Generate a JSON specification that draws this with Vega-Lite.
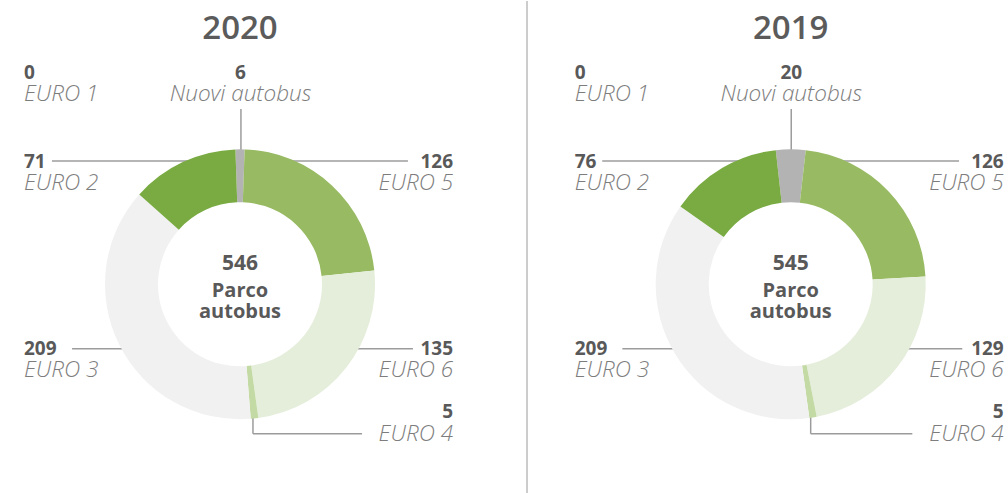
{
  "$schema": "https://vega.github.io/schema/vega-lite/v6.json",
  "padding": 0,
  "spacing": 0,
  "bounds": "flush",
  "config": {"view": {"stroke": null}},
  "resolve": {"scale": {"theta": "independent"}},
  "datasets": {
    "slices": [
      {"year": 2020, "cat": "Nuovi autobus", "value": 6, "k": 1},
      {"year": 2020, "cat": "EURO 5", "value": 126, "k": 2},
      {"year": 2020, "cat": "EURO 6", "value": 135, "k": 3},
      {"year": 2020, "cat": "EURO 4", "value": 5, "k": 4},
      {"year": 2020, "cat": "EURO 3", "value": 209, "k": 5},
      {"year": 2020, "cat": "EURO 2", "value": 71, "k": 6},
      {"year": 2020, "cat": "EURO 1", "value": 0, "k": 7},
      {"year": 2019, "cat": "Nuovi autobus", "value": 20, "k": 1},
      {"year": 2019, "cat": "EURO 5", "value": 126, "k": 2},
      {"year": 2019, "cat": "EURO 6", "value": 129, "k": 3},
      {"year": 2019, "cat": "EURO 4", "value": 5, "k": 4},
      {"year": 2019, "cat": "EURO 3", "value": 209, "k": 5},
      {"year": 2019, "cat": "EURO 2", "value": 76, "k": 6},
      {"year": 2019, "cat": "EURO 1", "value": 0, "k": 7}
    ],
    "totals": [
      {"year": 2020, "total": 546, "label": ["Parco", "autobus"]},
      {"year": 2019, "total": 545, "label": ["Parco", "autobus"]}
    ],
    "labelpos": [
      {"cat": "EURO 1", "lx": -1.6, "ly": 1.524},
      {"cat": "Nuovi autobus", "lx": 0.004, "ly": 1.524},
      {"cat": "EURO 2", "lx": -1.6, "ly": 0.864},
      {"cat": "EURO 5", "lx": 1.578, "ly": 0.864},
      {"cat": "EURO 3", "lx": -1.6, "ly": -0.52},
      {"cat": "EURO 6", "lx": 1.578, "ly": -0.52},
      {"cat": "EURO 4", "lx": 1.578, "ly": -0.994}
    ],
    "leaders": [
      {"year": 2020, "cat": "EURO 2", "ax": -1.393, "ay": 0.913, "bx": -0.3, "by": 0.913},
      {"year": 2020, "cat": "EURO 5", "ax": 0.3, "ay": 0.913, "bx": 1.244, "by": 0.913},
      {"year": 2020, "cat": "Nuovi autobus", "ax": 0.007, "ay": 1.299, "bx": 0.007, "by": 0.95},
      {"year": 2020, "cat": "EURO 3", "ax": -1.244, "ay": -0.477, "bx": -0.7, "by": -0.477},
      {"year": 2020, "cat": "EURO 6", "ax": 0.7, "ay": -0.477, "bx": 1.281, "by": -0.477},
      {"year": 2020, "cat": "EURO 4", "ax": 0.096, "ay": -0.95, "bx": 0.096, "by": -1.107},
      {"year": 2020, "cat": "EURO 4", "ax": 0.096, "ay": -1.107, "bx": 0.904, "by": -1.107},
      {"year": 2019, "cat": "EURO 2", "ax": -1.396, "ay": 0.913, "bx": -0.3, "by": 0.913},
      {"year": 2019, "cat": "EURO 5", "ax": 0.3, "ay": 0.913, "bx": 1.247, "by": 0.913},
      {"year": 2019, "cat": "Nuovi autobus", "ax": 0.004, "ay": 1.299, "bx": 0.004, "by": 0.95},
      {"year": 2019, "cat": "EURO 3", "ax": -1.247, "ay": -0.477, "bx": -0.7, "by": -0.477},
      {"year": 2019, "cat": "EURO 6", "ax": 0.7, "ay": -0.477, "bx": 1.271, "by": -0.477},
      {"year": 2019, "cat": "EURO 4", "ax": 0.148, "ay": -0.95, "bx": 0.148, "by": -1.107},
      {"year": 2019, "cat": "EURO 4", "ax": 0.148, "ay": -1.107, "bx": 0.901, "by": -1.107}
    ]
  },
  "hconcat": [
    {
      "width": 527,
      "height": 493,
      "layer": [
        {
          "data": {"name": "totals"},
          "transform": [{"filter": "datum.year == 2020"}],
          "mark": {"type": "rule", "color": "#9a9a9a", "strokeWidth": 1},
          "encoding": {"x": {"value": "width"}, "y": {"value": 0}, "y2": {"value": "height"}}
        },
        {
          "data": {"name": "leaders"},
          "transform": [{"filter": "datum.year == 2020"}],
          "mark": {"type": "rule", "color": "#9c9c9c", "strokeWidth": 1.5},
          "encoding": {
            "x": {"field": "ax", "type": "quantitative", "scale": {"domain": [-1.7778, 2.1259], "nice": false, "zero": false}, "axis": null},
            "y": {"field": "ay", "type": "quantitative", "scale": {"domain": [-1.5533, 2.0985], "nice": false, "zero": false}, "axis": null},
            "x2": {"field": "bx"},
            "y2": {"field": "by"}
          }
        },
        {
          "data": {"name": "slices"},
          "transform": [{"filter": "datum.year == 2020"}],
          "mark": {"type": "arc", "innerRadius": 82, "outerRadius": 135, "opacity": 1},
          "encoding": {
            "x": {"datum": 0, "type": "quantitative", "scale": {"domain": [-1.7778, 2.1259], "nice": false, "zero": false}, "axis": null},
            "y": {"datum": 0, "type": "quantitative", "scale": {"domain": [-1.5533, 2.0985], "nice": false, "zero": false}, "axis": null},
            "theta": {"field": "value", "type": "quantitative", "stack": true, "scale": {"range": [-0.034, 6.2492]}},
            "order": {"field": "k", "type": "quantitative"},
            "color": {"field": "cat", "type": "nominal", "legend": null, "scale": {"domain": ["Nuovi autobus", "EURO 5", "EURO 6", "EURO 4", "EURO 3", "EURO 2", "EURO 1"], "range": ["#b3b3b3", "#97ba62", "#e5eedb", "#c4daa5", "#f1f1f1", "#79ab42", "#5e8c31"]}}
          }
        },
        {
          "data": {"name": "totals"},
          "transform": [{"filter": "datum.year == 2020"}],
          "mark": {"type": "text", "align": "center", "baseline": "alphabetic", "font": "Open Sans", "fontWeight": 600, "fontSize": 33, "color": "#5b5b5b"},
          "encoding": {
            "x": {"datum": 0, "type": "quantitative", "scale": {"domain": [-1.7778, 2.1259], "nice": false, "zero": false}, "axis": null},
            "y": {"datum": 1.815, "type": "quantitative", "scale": {"domain": [-1.5533, 2.0985], "nice": false, "zero": false}, "axis": null},
            "text": {"field": "year", "type": "nominal"}
          }
        },
        {
          "data": {"name": "totals"},
          "transform": [{"filter": "datum.year == 2020"}],
          "mark": {"type": "text", "align": "center", "baseline": "alphabetic", "font": "Open Sans", "fontWeight": "bold", "fontSize": 21, "color": "#595959", "dy": -14.8},
          "encoding": {
            "x": {"datum": 0, "type": "quantitative", "scale": {"domain": [-1.7778, 2.1259], "nice": false, "zero": false}, "axis": null},
            "y": {"datum": 0, "type": "quantitative", "scale": {"domain": [-1.5533, 2.0985], "nice": false, "zero": false}, "axis": null},
            "text": {"field": "total", "type": "quantitative"}
          }
        },
        {
          "data": {"name": "totals"},
          "transform": [{"filter": "datum.year == 2020"}],
          "mark": {"type": "text", "align": "center", "baseline": "alphabetic", "font": "Open Sans", "fontWeight": "bold", "fontSize": 20, "lineHeight": 21, "color": "#595959", "dy": 12.4},
          "encoding": {
            "x": {"datum": 0, "type": "quantitative", "scale": {"domain": [-1.7778, 2.1259], "nice": false, "zero": false}, "axis": null},
            "y": {"datum": 0, "type": "quantitative", "scale": {"domain": [-1.5533, 2.0985], "nice": false, "zero": false}, "axis": null},
            "text": {"field": "label"}
          }
        },
        {
          "data": {"name": "slices"},
          "transform": [{"filter": "datum.year == 2020 && indexof(['EURO 1','EURO 2','EURO 3'], datum.cat) >= 0"}, {"lookup": "cat", "from": {"data": {"name": "labelpos"}, "key": "cat", "fields": ["lx", "ly"]}}],
          "mark": {"type": "text", "align": "left", "baseline": "alphabetic", "font": "Open Sans", "fontWeight": "bold", "fontSize": 19, "color": "#595959"},
          "encoding": {
            "x": {"field": "lx", "type": "quantitative", "scale": {"domain": [-1.7778, 2.1259], "nice": false, "zero": false}, "axis": null},
            "y": {"field": "ly", "type": "quantitative", "scale": {"domain": [-1.5533, 2.0985], "nice": false, "zero": false}, "axis": null},
            "text": {"field": "value", "type": "quantitative"}
          }
        },
        {
          "data": {"name": "slices"},
          "transform": [{"filter": "datum.year == 2020 && datum.cat == 'Nuovi autobus'"}, {"lookup": "cat", "from": {"data": {"name": "labelpos"}, "key": "cat", "fields": ["lx", "ly"]}}],
          "mark": {"type": "text", "align": "center", "baseline": "alphabetic", "font": "Open Sans", "fontWeight": "bold", "fontSize": 19, "color": "#595959"},
          "encoding": {
            "x": {"field": "lx", "type": "quantitative", "scale": {"domain": [-1.7778, 2.1259], "nice": false, "zero": false}, "axis": null},
            "y": {"field": "ly", "type": "quantitative", "scale": {"domain": [-1.5533, 2.0985], "nice": false, "zero": false}, "axis": null},
            "text": {"field": "value", "type": "quantitative"}
          }
        },
        {
          "data": {"name": "slices"},
          "transform": [{"filter": "datum.year == 2020 && indexof(['EURO 4','EURO 5','EURO 6'], datum.cat) >= 0"}, {"lookup": "cat", "from": {"data": {"name": "labelpos"}, "key": "cat", "fields": ["lx", "ly"]}}],
          "mark": {"type": "text", "align": "right", "baseline": "alphabetic", "font": "Open Sans", "fontWeight": "bold", "fontSize": 19, "color": "#595959"},
          "encoding": {
            "x": {"field": "lx", "type": "quantitative", "scale": {"domain": [-1.7778, 2.1259], "nice": false, "zero": false}, "axis": null},
            "y": {"field": "ly", "type": "quantitative", "scale": {"domain": [-1.5533, 2.0985], "nice": false, "zero": false}, "axis": null},
            "text": {"field": "value", "type": "quantitative"}
          }
        },
        {
          "data": {"name": "slices"},
          "transform": [{"filter": "datum.year == 2020 && indexof(['EURO 1','EURO 2','EURO 3'], datum.cat) >= 0"}, {"lookup": "cat", "from": {"data": {"name": "labelpos"}, "key": "cat", "fields": ["lx", "ly"]}}],
          "mark": {"type": "text", "align": "left", "baseline": "alphabetic", "font": "Open Sans", "fontStyle": "italic", "fontWeight": 300, "fontSize": 22.5, "color": "#7d7d7d", "dy": 22.5},
          "encoding": {
            "x": {"field": "lx", "type": "quantitative", "scale": {"domain": [-1.7778, 2.1259], "nice": false, "zero": false}, "axis": null},
            "y": {"field": "ly", "type": "quantitative", "scale": {"domain": [-1.5533, 2.0985], "nice": false, "zero": false}, "axis": null},
            "text": {"field": "cat", "type": "nominal"}
          }
        },
        {
          "data": {"name": "slices"},
          "transform": [{"filter": "datum.year == 2020 && datum.cat == 'Nuovi autobus'"}, {"lookup": "cat", "from": {"data": {"name": "labelpos"}, "key": "cat", "fields": ["lx", "ly"]}}],
          "mark": {"type": "text", "align": "center", "baseline": "alphabetic", "font": "Open Sans", "fontStyle": "italic", "fontWeight": 300, "fontSize": 22.5, "color": "#7d7d7d", "dy": 22.5},
          "encoding": {
            "x": {"field": "lx", "type": "quantitative", "scale": {"domain": [-1.7778, 2.1259], "nice": false, "zero": false}, "axis": null},
            "y": {"field": "ly", "type": "quantitative", "scale": {"domain": [-1.5533, 2.0985], "nice": false, "zero": false}, "axis": null},
            "text": {"field": "cat", "type": "nominal"}
          }
        },
        {
          "data": {"name": "slices"},
          "transform": [{"filter": "datum.year == 2020 && indexof(['EURO 4','EURO 5','EURO 6'], datum.cat) >= 0"}, {"lookup": "cat", "from": {"data": {"name": "labelpos"}, "key": "cat", "fields": ["lx", "ly"]}}],
          "mark": {"type": "text", "align": "right", "baseline": "alphabetic", "font": "Open Sans", "fontStyle": "italic", "fontWeight": 300, "fontSize": 22.5, "color": "#7d7d7d", "dy": 22.5},
          "encoding": {
            "x": {"field": "lx", "type": "quantitative", "scale": {"domain": [-1.7778, 2.1259], "nice": false, "zero": false}, "axis": null},
            "y": {"field": "ly", "type": "quantitative", "scale": {"domain": [-1.5533, 2.0985], "nice": false, "zero": false}, "axis": null},
            "text": {"field": "cat", "type": "nominal"}
          }
        }
      ]
    },
    {
      "width": 481,
      "height": 493,
      "layer": [
        {
          "data": {"name": "leaders"},
          "transform": [{"filter": "datum.year == 2019"}],
          "mark": {"type": "rule", "color": "#9c9c9c", "strokeWidth": 1.5},
          "encoding": {
            "x": {"field": "ax", "type": "quantitative", "scale": {"domain": [-1.9533, 1.6096], "nice": false, "zero": false}, "axis": null},
            "y": {"field": "ay", "type": "quantitative", "scale": {"domain": [-1.5533, 2.0985], "nice": false, "zero": false}, "axis": null},
            "x2": {"field": "bx"},
            "y2": {"field": "by"}
          }
        },
        {
          "data": {"name": "slices"},
          "transform": [{"filter": "datum.year == 2019"}],
          "mark": {"type": "arc", "innerRadius": 82, "outerRadius": 135, "opacity": 1},
          "encoding": {
            "x": {"datum": 0, "type": "quantitative", "scale": {"domain": [-1.9533, 1.6096], "nice": false, "zero": false}, "axis": null},
            "y": {"datum": 0, "type": "quantitative", "scale": {"domain": [-1.5533, 2.0985], "nice": false, "zero": false}, "axis": null},
            "theta": {"field": "value", "type": "quantitative", "stack": true, "scale": {"range": [-0.1108, 6.1724]}},
            "order": {"field": "k", "type": "quantitative"},
            "color": {"field": "cat", "type": "nominal", "legend": null, "scale": {"domain": ["Nuovi autobus", "EURO 5", "EURO 6", "EURO 4", "EURO 3", "EURO 2", "EURO 1"], "range": ["#b3b3b3", "#97ba62", "#e5eedb", "#c4daa5", "#f1f1f1", "#79ab42", "#5e8c31"]}}
          }
        },
        {
          "data": {"name": "totals"},
          "transform": [{"filter": "datum.year == 2019"}],
          "mark": {"type": "text", "align": "center", "baseline": "alphabetic", "font": "Open Sans", "fontWeight": 600, "fontSize": 33, "color": "#5b5b5b"},
          "encoding": {
            "x": {"datum": 0, "type": "quantitative", "scale": {"domain": [-1.9533, 1.6096], "nice": false, "zero": false}, "axis": null},
            "y": {"datum": 1.815, "type": "quantitative", "scale": {"domain": [-1.5533, 2.0985], "nice": false, "zero": false}, "axis": null},
            "text": {"field": "year", "type": "nominal"}
          }
        },
        {
          "data": {"name": "totals"},
          "transform": [{"filter": "datum.year == 2019"}],
          "mark": {"type": "text", "align": "center", "baseline": "alphabetic", "font": "Open Sans", "fontWeight": "bold", "fontSize": 21, "color": "#595959", "dy": -14.8},
          "encoding": {
            "x": {"datum": 0, "type": "quantitative", "scale": {"domain": [-1.9533, 1.6096], "nice": false, "zero": false}, "axis": null},
            "y": {"datum": 0, "type": "quantitative", "scale": {"domain": [-1.5533, 2.0985], "nice": false, "zero": false}, "axis": null},
            "text": {"field": "total", "type": "quantitative"}
          }
        },
        {
          "data": {"name": "totals"},
          "transform": [{"filter": "datum.year == 2019"}],
          "mark": {"type": "text", "align": "center", "baseline": "alphabetic", "font": "Open Sans", "fontWeight": "bold", "fontSize": 20, "lineHeight": 21, "color": "#595959", "dy": 12.4},
          "encoding": {
            "x": {"datum": 0, "type": "quantitative", "scale": {"domain": [-1.9533, 1.6096], "nice": false, "zero": false}, "axis": null},
            "y": {"datum": 0, "type": "quantitative", "scale": {"domain": [-1.5533, 2.0985], "nice": false, "zero": false}, "axis": null},
            "text": {"field": "label"}
          }
        },
        {
          "data": {"name": "slices"},
          "transform": [{"filter": "datum.year == 2019 && indexof(['EURO 1','EURO 2','EURO 3'], datum.cat) >= 0"}, {"lookup": "cat", "from": {"data": {"name": "labelpos"}, "key": "cat", "fields": ["lx", "ly"]}}],
          "mark": {"type": "text", "align": "left", "baseline": "alphabetic", "font": "Open Sans", "fontWeight": "bold", "fontSize": 19, "color": "#595959"},
          "encoding": {
            "x": {"field": "lx", "type": "quantitative", "scale": {"domain": [-1.9533, 1.6096], "nice": false, "zero": false}, "axis": null},
            "y": {"field": "ly", "type": "quantitative", "scale": {"domain": [-1.5533, 2.0985], "nice": false, "zero": false}, "axis": null},
            "text": {"field": "value", "type": "quantitative"}
          }
        },
        {
          "data": {"name": "slices"},
          "transform": [{"filter": "datum.year == 2019 && datum.cat == 'Nuovi autobus'"}, {"lookup": "cat", "from": {"data": {"name": "labelpos"}, "key": "cat", "fields": ["lx", "ly"]}}],
          "mark": {"type": "text", "align": "center", "baseline": "alphabetic", "font": "Open Sans", "fontWeight": "bold", "fontSize": 19, "color": "#595959"},
          "encoding": {
            "x": {"field": "lx", "type": "quantitative", "scale": {"domain": [-1.9533, 1.6096], "nice": false, "zero": false}, "axis": null},
            "y": {"field": "ly", "type": "quantitative", "scale": {"domain": [-1.5533, 2.0985], "nice": false, "zero": false}, "axis": null},
            "text": {"field": "value", "type": "quantitative"}
          }
        },
        {
          "data": {"name": "slices"},
          "transform": [{"filter": "datum.year == 2019 && indexof(['EURO 4','EURO 5','EURO 6'], datum.cat) >= 0"}, {"lookup": "cat", "from": {"data": {"name": "labelpos"}, "key": "cat", "fields": ["lx", "ly"]}}],
          "mark": {"type": "text", "align": "right", "baseline": "alphabetic", "font": "Open Sans", "fontWeight": "bold", "fontSize": 19, "color": "#595959"},
          "encoding": {
            "x": {"field": "lx", "type": "quantitative", "scale": {"domain": [-1.9533, 1.6096], "nice": false, "zero": false}, "axis": null},
            "y": {"field": "ly", "type": "quantitative", "scale": {"domain": [-1.5533, 2.0985], "nice": false, "zero": false}, "axis": null},
            "text": {"field": "value", "type": "quantitative"}
          }
        },
        {
          "data": {"name": "slices"},
          "transform": [{"filter": "datum.year == 2019 && indexof(['EURO 1','EURO 2','EURO 3'], datum.cat) >= 0"}, {"lookup": "cat", "from": {"data": {"name": "labelpos"}, "key": "cat", "fields": ["lx", "ly"]}}],
          "mark": {"type": "text", "align": "left", "baseline": "alphabetic", "font": "Open Sans", "fontStyle": "italic", "fontWeight": 300, "fontSize": 22.5, "color": "#7d7d7d", "dy": 22.5},
          "encoding": {
            "x": {"field": "lx", "type": "quantitative", "scale": {"domain": [-1.9533, 1.6096], "nice": false, "zero": false}, "axis": null},
            "y": {"field": "ly", "type": "quantitative", "scale": {"domain": [-1.5533, 2.0985], "nice": false, "zero": false}, "axis": null},
            "text": {"field": "cat", "type": "nominal"}
          }
        },
        {
          "data": {"name": "slices"},
          "transform": [{"filter": "datum.year == 2019 && datum.cat == 'Nuovi autobus'"}, {"lookup": "cat", "from": {"data": {"name": "labelpos"}, "key": "cat", "fields": ["lx", "ly"]}}],
          "mark": {"type": "text", "align": "center", "baseline": "alphabetic", "font": "Open Sans", "fontStyle": "italic", "fontWeight": 300, "fontSize": 22.5, "color": "#7d7d7d", "dy": 22.5},
          "encoding": {
            "x": {"field": "lx", "type": "quantitative", "scale": {"domain": [-1.9533, 1.6096], "nice": false, "zero": false}, "axis": null},
            "y": {"field": "ly", "type": "quantitative", "scale": {"domain": [-1.5533, 2.0985], "nice": false, "zero": false}, "axis": null},
            "text": {"field": "cat", "type": "nominal"}
          }
        },
        {
          "data": {"name": "slices"},
          "transform": [{"filter": "datum.year == 2019 && indexof(['EURO 4','EURO 5','EURO 6'], datum.cat) >= 0"}, {"lookup": "cat", "from": {"data": {"name": "labelpos"}, "key": "cat", "fields": ["lx", "ly"]}}],
          "mark": {"type": "text", "align": "right", "baseline": "alphabetic", "font": "Open Sans", "fontStyle": "italic", "fontWeight": 300, "fontSize": 22.5, "color": "#7d7d7d", "dy": 22.5},
          "encoding": {
            "x": {"field": "lx", "type": "quantitative", "scale": {"domain": [-1.9533, 1.6096], "nice": false, "zero": false}, "axis": null},
            "y": {"field": "ly", "type": "quantitative", "scale": {"domain": [-1.5533, 2.0985], "nice": false, "zero": false}, "axis": null},
            "text": {"field": "cat", "type": "nominal"}
          }
        }
      ]
    }
  ]
}
